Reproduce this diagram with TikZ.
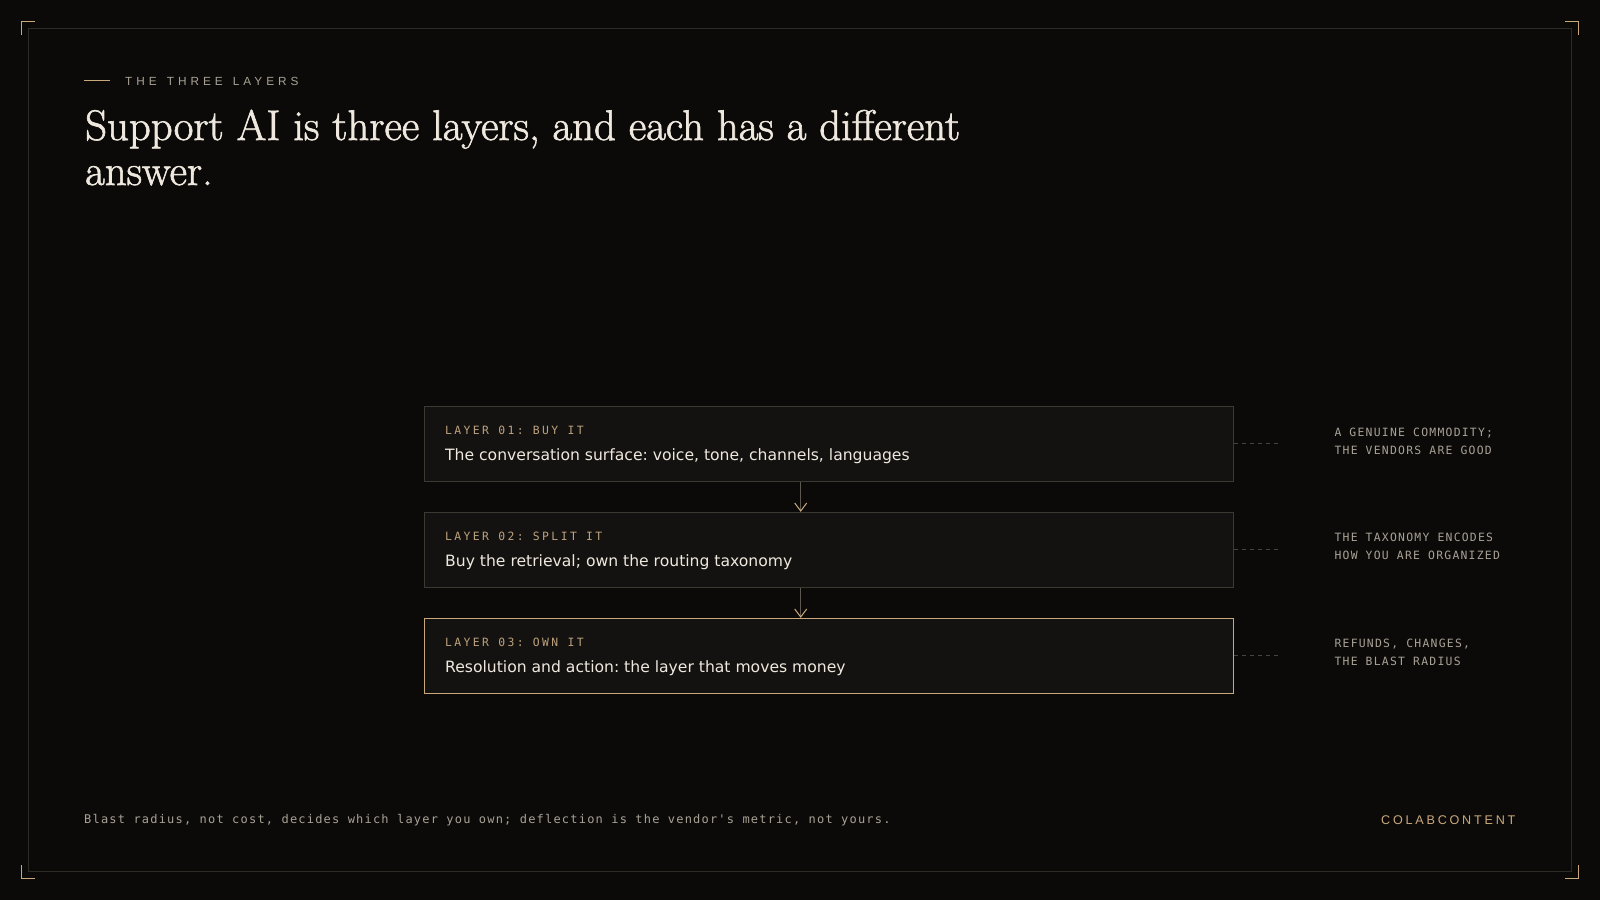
\documentclass[tikz,border=0pt]{standalone}
\usepackage{fontspec}
\usetikzlibrary{arrows.meta}
\newfontfamily\titlef[FakeBold=1.5]{Latin Modern Roman}
\newfontfamily\sansf{DejaVu Sans}
\newfontfamily\monoL[LetterSpace=21]{DejaVu Sans Mono}
\newfontfamily\monoN[LetterSpace=11]{DejaVu Sans Mono}
\newfontfamily\monoF[LetterSpace=10]{DejaVu Sans Mono}
\newfontfamily\sansW[LetterSpace=34]{Liberation Sans}
\newfontfamily\sansB[LetterSpace=22]{Liberation Sans}
\frenchspacing
\definecolor{bg}{HTML}{0C0A09}
\definecolor{framec}{HTML}{2E2B27}
\definecolor{gold}{HTML}{C9A97B}
\definecolor{boxfill}{HTML}{141210}
\definecolor{boxline}{HTML}{3C3832}
\definecolor{txt}{HTML}{EEE8DE}
\definecolor{notec}{HTML}{A8A195}
\definecolor{labelc}{HTML}{BCA27E}
\definecolor{dashc}{HTML}{48433C}
\definecolor{arrowc}{HTML}{5C574F}
\tikzset{
  layerbox/.style={draw=boxline, fill=boxfill, line width=1pt, minimum width=809.4pt, minimum height=75pt, inner sep=0pt},
  ownbox/.style={layerbox, draw=gold},
  txtnode/.style={anchor=base west, inner sep=0pt},
  lbl/.style={txtnode, text=labelc, font=\monoL\fontsize{11.4}{14}\selectfont\frenchspacing},
  body/.style={txtnode, text=txt, font=\sansf\fontsize{15.6}{19}\selectfont\frenchspacing},
  notetxt/.style={txtnode, text=notec, font=\monoN\fontsize{11.4}{14}\selectfont\frenchspacing},
  flowline/.style={draw=arrowc, line width=1pt, -{Straight Barb[length=8pt, width=12pt, line width=1pt, color=gold]}},
  dashln/.style={draw=dashc, line width=1pt, dash pattern=on 4pt off 4pt},
  cornermark/.style={draw=gold, line width=1.2pt},
  titletxt/.style={txtnode, text=txt, font=\titlef\fontsize{42.8}{45}\selectfont\frenchspacing},
}
\begin{document}
\begin{tikzpicture}[x=1pt, y=-1pt]
\fill[bg] (0,0) rectangle (1600,900);
\useasboundingbox (0,0) rectangle (1600,900);
% frame
\draw[framec, line width=1pt] (28.5,28.5) rectangle (1571.5,871);
% corner marks
\draw[cornermark] (21.5,35) -- (21.5,21.5) -- (35,21.5);
\draw[cornermark] (1565,21.5) -- (1578.5,21.5) -- (1578.5,35);
\draw[cornermark] (21.5,865) -- (21.5,878.5) -- (35,878.5);
\draw[cornermark] (1565,878.5) -- (1578.5,878.5) -- (1578.5,865);
% header
\draw[gold, line width=1pt] (84,80.3) -- (110,80.3);
\node[txtnode, text=notec, font=\sansW\fontsize{11.8}{14}\selectfont] (kicker) at (125,85) {THE\hspace{10pt}THREE\hspace{10pt}LAYERS};
\node[titletxt] (title1) at (85,140) {Support AI is three layers, and each has a different};
\node[titletxt] (title2) at (85,185) {answer.};
% boxes
\node[layerbox] (b1) at (829,443.5) {};
\node[layerbox] (b2) at (829,549.8) {};
\node[ownbox] (b3) at (829,655.8) {};
\node[lbl] (l1) at (445,434) {LAYER 01: BUY IT};
\node[body] (t1) at (445,460) {The conversation surface: voice, tone, channels, languages};
\node[lbl] (l2) at (445,540.3) {LAYER 02: SPLIT IT};
\node[body] (t2) at (445,566.3) {Buy the retrieval; own the routing taxonomy};
\node[lbl] (l3) at (445,646) {LAYER 03: OWN IT};
\node[body] (t3) at (445,672) {Resolution and action: the layer that moves money};
% flow arrows
\coordinate (ax) at (800.7,0);
\draw[flowline] (b1.south -| ax) -- (b2.north -| ax);
\draw[flowline] (b2.south -| ax) -- (b3.north -| ax);
% dashed leaders
\coordinate (d1) at (1278,443.5);
\coordinate (d2) at (1278,549.8);
\coordinate (d3) at (1278,655.8);
\draw[dashln] (b1.east) -- (d1);
\draw[dashln] (b2.east) -- (d2);
\draw[dashln] (b3.east) -- (d3);
% notes
\node[notetxt] (n1a) at (1334.3,436) {A GENUINE COMMODITY;};
\node[notetxt] (n1b) at (1334.3,454) {THE VENDORS ARE GOOD};
\node[notetxt] (n2a) at (1334.3,541.7) {THE TAXONOMY ENCODES};
\node[notetxt] (n2b) at (1334.3,559.5) {HOW YOU ARE ORGANIZED};
\node[notetxt] (n3a) at (1334.3,647.7) {REFUNDS, CHANGES,};
\node[notetxt] (n3b) at (1334.3,665.7) {THE BLAST RADIUS};
% footer
\node[txtnode, text=notec, font=\monoF\fontsize{12}{14}\selectfont\frenchspacing] (foot) at (84,823.5) {Blast radius, not cost, decides which layer you own; deflection is the vendor's metric, not yours.};
\node[txtnode, text=gold, font=\sansB\fontsize{12.6}{14}\selectfont] (brand) at (1381,824) {COLABCONTENT};
\end{tikzpicture}
\end{document}
